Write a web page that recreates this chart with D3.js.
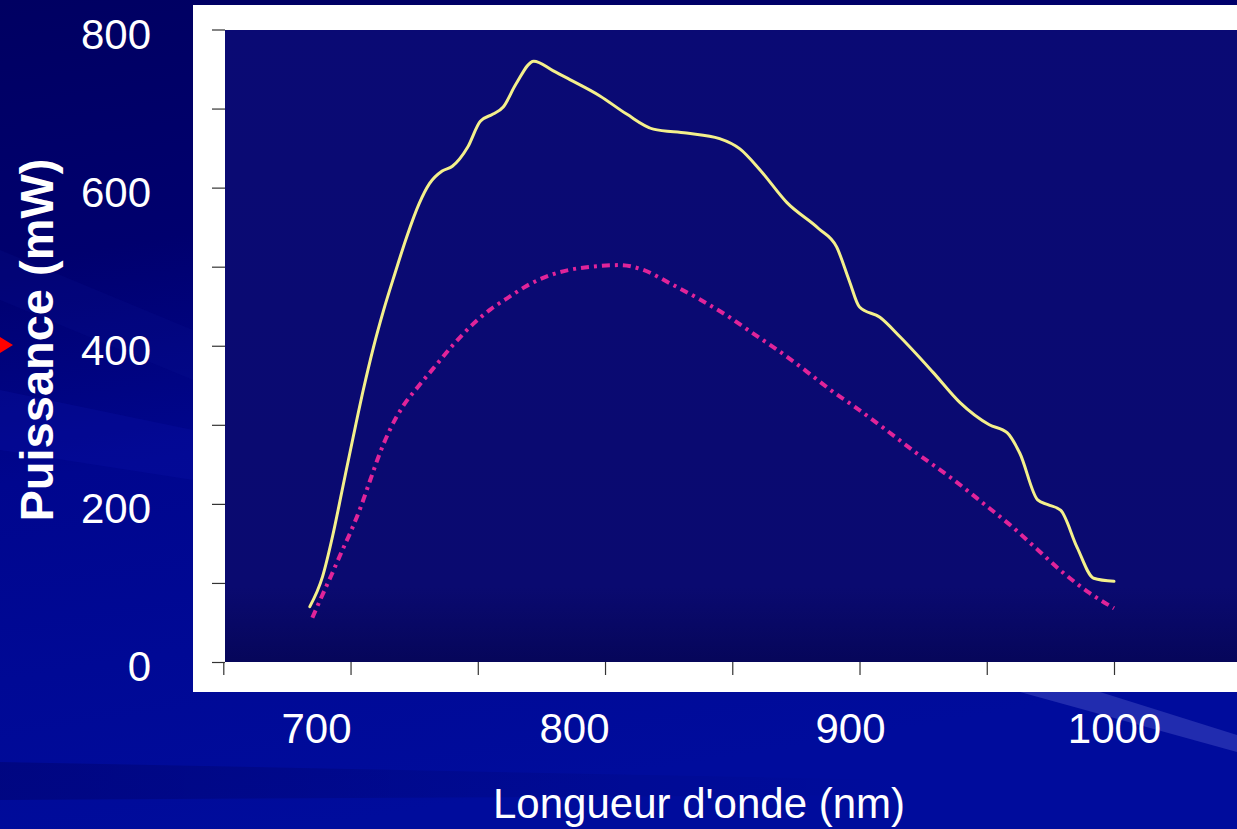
<!DOCTYPE html>
<html>
<head>
<meta charset="utf-8">
<script src="https://cdn.jsdelivr.net/npm/d3@7"></script>
<style>
  html, body { margin: 0; padding: 0; background: #00007a; overflow: hidden; }
  svg { display: block; font-family: "Liberation Sans", Arial, sans-serif; }
</style>
</head>
<body>
<script>
// wavelengths (nm) and power (mW)
let yellowNm = [684, 689, 693, 697, 701, 705, 709, 713, 717.5, 722, 727, 731, 736, 740, 746, 751, 756, 760, 765, 772,
  779.5, 786, 798, 808.5, 819, 832, 845, 853, 861, 871.5, 884, 891, 896, 900, 908, 916, 929, 939.5, 951, 958,
  963, 970, 974, 979, 985.5, 992, 1000];
let yellowMw = [70, 108, 160, 222, 284, 344, 398, 445, 492, 537, 580, 605, 621, 627, 651, 684, 693, 702, 731, 760,
  748, 737, 716, 693, 674, 669, 662, 649, 622, 581, 548, 525, 482, 449, 436, 411, 366, 328, 300, 290,
  264, 205, 199, 192, 145, 106, 102];

let pinkNm = [685, 688, 692.5, 697, 700.5, 704, 707.5, 711.5, 715.5, 720.5, 727, 734, 740, 748, 755, 761.5, 770.5,
  781, 786, 795, 806, 815, 825.5, 837, 848, 858, 868.5, 879, 889.5, 898, 909, 922.5, 935.5, 948.5, 960, 970,
  980, 990.5, 1000];
let pinkMw = [56, 78, 110, 143, 168, 196, 228, 264, 294, 323, 350, 377, 400, 427, 446, 460, 478,
  492, 496, 500, 502, 496, 479, 459, 438, 416, 393, 368, 342, 323, 297, 264, 234, 201, 171, 142,
  113, 87, 68];

let yTicks = [0, 100, 200, 300, 400, 500, 600, 700, 800];
let yLabels = [0, 200, 400, 600, 800];
let xTicks = [650, 700, 750, 800, 850, 900, 950, 1000];
let xLabels = [700, 800, 900, 1000];

let w = 1237;
let h = 829;

let svg = d3.select("body").append("svg").attr("width", w).attr("height", h);
let defs = svg.append("defs");

let bg = defs.append("linearGradient").attr("id", "bg")
  .attr("x1", 0).attr("y1", 0).attr("x2", 0.25).attr("y2", 1);
bg.append("stop").attr("offset", "0%").attr("stop-color", "#000062");
bg.append("stop").attr("offset", "30%").attr("stop-color", "#00006e");
bg.append("stop").attr("offset", "55%").attr("stop-color", "#00068e");
bg.append("stop").attr("offset", "100%").attr("stop-color", "#000c9c");

let plotBg = defs.append("linearGradient").attr("id", "plotBg")
  .attr("x1", 0).attr("y1", 0).attr("x2", 0).attr("y2", 1);
plotBg.append("stop").attr("offset", "0%").attr("stop-color", "#0a0a74");
plotBg.append("stop").attr("offset", "88%").attr("stop-color", "#0a0a70");
plotBg.append("stop").attr("offset", "100%").attr("stop-color", "#06065a");

let fadeBand = defs.append("linearGradient").attr("id", "fadeBand")
  .attr("x1", 0).attr("y1", 0).attr("x2", 1).attr("y2", 0);
fadeBand.append("stop").attr("offset", "0%").attr("stop-color", "#000060").attr("stop-opacity", 0.4);
fadeBand.append("stop").attr("offset", "100%").attr("stop-color", "#000060").attr("stop-opacity", 0);

// slide background
svg.append("rect").attr("width", w).attr("height", h).attr("fill", "url(#bg)");

// faint diagonal bands of the slide template
let bands = [
  { pts: [[0, 250], [193, 330], [193, 380], [0, 300]], fill: "rgba(10,20,150,0.18)" },
  { pts: [[0, 390], [193, 430], [193, 480], [0, 450]], fill: "rgba(10,20,170,0.25)" },
  { pts: [[0, 762], [900, 780], [900, 795], [0, 800]], fill: "url(#fadeBand)" },
  { pts: [[1020, 692], [1100, 692], [1237, 735], [1237, 752]], fill: "rgba(110,120,220,0.3)" }
];
svg.selectAll("polygon.band")
  .data(bands)
  .enter()
  .append("polygon")
  .attr("class", "band")
  .attr("points", (d) => d.pts.map((p) => p.join(",")).join(" "))
  .attr("fill", (d) => d.fill);

// white frame of the pasted graph and its dark plot area
svg.append("rect").attr("x", 193).attr("y", 5).attr("width", w - 193).attr("height", 687).attr("fill", "#ffffff");
svg.append("rect").attr("x", 225).attr("y", 30).attr("width", w - 225).attr("height", 632).attr("fill", "url(#plotBg)");

let x = d3.scaleLinear().domain([650, 1000]).range([223.3, 1114]);
let y = d3.scaleLinear().domain([0, 800]).range([662, 29.5]);
// the slide's tick labels were typed over the graph, not quite on its ticks
let xLab = d3.scaleLinear().domain([700, 800, 900, 1000]).range([316, 574, 850, 1114]);

let yAxis = d3.axisLeft(y).tickValues(yTicks).tickSize(13).tickFormat("");
let xAxis = d3.axisBottom(x).tickValues(xTicks).tickSize(13).tickFormat("");

svg.append("g")
  .attr("class", "y axis")
  .attr("transform", "translate(225,0)")
  .call(yAxis)
  .call((g) => g.select(".domain").remove())
  .selectAll("line").attr("stroke", "#333").attr("stroke-width", 1.2);

svg.append("g")
  .attr("class", "x axis")
  .attr("transform", "translate(0,662)")
  .call(xAxis)
  .call((g) => g.select(".domain").remove())
  .selectAll("line").attr("stroke", "#333").attr("stroke-width", 1.2);

// tick labels in white on the slide
svg.append("g")
  .attr("transform", "translate(151,0)")
  .call(d3.axisLeft(y).tickValues(yLabels).tickSize(0).tickPadding(0).tickFormat(d3.format("d")))
  .call((g) => g.select(".domain").remove())
  .selectAll("text")
  .attr("fill", "#ffffff")
  .attr("font-size", "42px")
  .attr("font-family", "Liberation Sans, Arial, sans-serif")
  .attr("dy", "0.45em");

svg.append("g")
  .attr("transform", "translate(0,700)")
  .call(d3.axisBottom(xLab).tickValues(xLabels).tickSize(0).tickPadding(13).tickFormat(d3.format("d")))
  .call((g) => g.select(".domain").remove())
  .selectAll("text")
  .attr("fill", "#ffffff")
  .attr("font-size", "42px")
  .attr("font-family", "Liberation Sans, Arial, sans-serif");

svg.append("text")
  .attr("x", 699)
  .attr("y", 818)
  .attr("text-anchor", "middle")
  .attr("fill", "#ffffff")
  .attr("font-size", "42px")
  .text("Longueur d'onde (nm)");

svg.append("text")
  .attr("text-anchor", "middle")
  .attr("fill", "#ffffff")
  .attr("font-size", "47px")
  .attr("font-weight", "bold")
  .attr("transform", "translate(53,340) rotate(-90)")
  .text("Puissance (mW)");

// red bullet arrow peeking in from the left
svg.append("path")
  .attr("d", "M0,337 L13,345 L0,353 Z")
  .attr("fill", "#ff0000");

let line = d3.line()
  .x((d) => x(d[0]))
  .y((d) => y(d[1]))
  .curve(d3.curveMonotoneX);

svg.append("path")
  .datum(d3.zip(pinkNm, pinkMw))
  .attr("d", line)
  .attr("fill", "none")
  .attr("stroke", "#e0249a")
  .attr("stroke-width", 4)
  .attr("stroke-dasharray", "8,5,3,5");

svg.append("path")
  .datum(d3.zip(yellowNm, yellowMw))
  .attr("d", line)
  .attr("fill", "none")
  .attr("stroke", "#f4f08c")
  .attr("stroke-width", 3)
  .attr("stroke-linecap", "round");
</script>
</body>
</html>
